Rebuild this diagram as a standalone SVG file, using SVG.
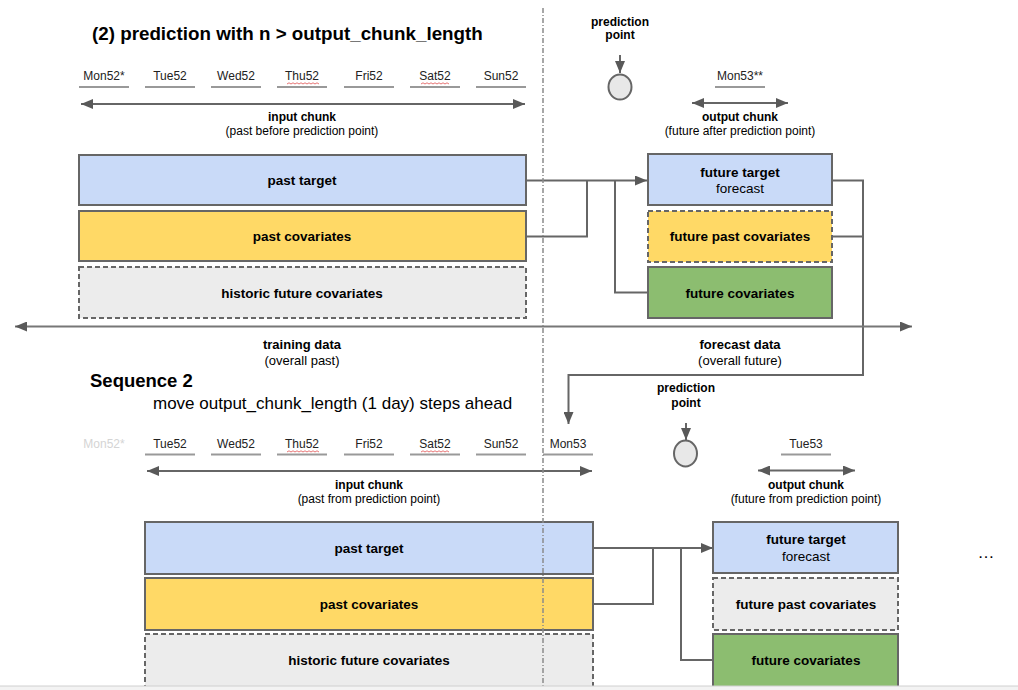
<svg xmlns="http://www.w3.org/2000/svg" width="1018" height="690" viewBox="0 0 1018 690">
<defs>
<marker id="ah" markerUnits="userSpaceOnUse" markerWidth="12" markerHeight="10" viewBox="0 0 12 10" refX="12" refY="5" orient="auto-start-reverse"><path d="M0,0 L12,5 L0,10 z" fill="#595959"/></marker>
<style>
text{font-family:"Liberation Sans",Arial,sans-serif;fill:#000;text-anchor:middle}
.day{font-size:12px;fill:#222}
.b12{font-size:12px;font-weight:bold}
.r12{font-size:12px}
.b13{font-size:13px;font-weight:bold}
.r13{font-size:13px}
.lbl{font-size:13.5px;font-weight:bold}
.lblr{font-size:13.5px}
.ul{stroke:#999;stroke-width:2}
.arr{stroke:#666;stroke-width:2;fill:none}
.box{stroke:#666;stroke-width:2}
.dash{stroke-dasharray:5 3}
.blue{fill:#c9daf8}
.yellow{fill:#ffd966}
.grey{fill:#ececec}
.green{fill:#8cbd70}
.sq{stroke:#e05050;stroke-width:0.8;fill:none}
.conn{stroke:#666;stroke-width:2;fill:none}
</style>
</defs>
<rect width="1018" height="690" fill="#fff"/>

<!-- Sequence 1 header -->
<text x="92" y="40" style="font-size:18.8px;font-weight:bold;text-anchor:start">(2) prediction with n &gt; output_chunk_length</text>

<g id="days1">
<text class="day" x="104" y="80">Mon52*</text>
<text class="day" x="170" y="80">Tue52</text>
<text class="day" x="236" y="80">Wed52</text>
<text class="day" x="302" y="80">Thu52</text>
<text class="day" x="369" y="80">Fri52</text>
<text class="day" x="435" y="80">Sat52</text>
<text class="day" x="501" y="80">Sun52</text>
<line class="ul" x1="79" y1="87" x2="129" y2="87"/>
<line class="ul" x1="145" y1="87" x2="195" y2="87"/>
<line class="ul" x1="211" y1="87" x2="261" y2="87"/>
<line class="ul" x1="277" y1="87" x2="327" y2="87"/>
<line class="ul" x1="344" y1="87" x2="394" y2="87"/>
<line class="ul" x1="410" y1="87" x2="460" y2="87"/>
<line class="ul" x1="476" y1="87" x2="526" y2="87"/>
<path class="sq" d="M287,84 l2,-1.2 l2,1.2 l2,-1.2 l2,1.2 l2,-1.2 l2,1.2 l2,-1.2 l2,1.2 l2,-1.2 l2,1.2 l2,-1.2 l2,1.2 l2,-1.2 l2,1.2 l2,-1.2 l2,1.2"/>
<path class="sq" d="M421,84 l2,-1.2 l2,1.2 l2,-1.2 l2,1.2 l2,-1.2 l2,1.2 l2,-1.2 l2,1.2 l2,-1.2 l2,1.2 l2,-1.2 l2,1.2 l2,-1.2 l2,1.2"/>
</g>

<g id="input-chunk-1">
<line class="arr" x1="81" y1="104" x2="525" y2="104" marker-start="url(#ah)" marker-end="url(#ah)"/>
<text class="b12" x="302" y="121">input chunk</text>
<text class="r12" x="302" y="135">(past before prediction point)</text>
</g>

<g id="prediction-point-1">
<text class="b12" x="620" y="26">prediction</text>
<text class="b12" x="620" y="39">point</text>
<line class="arr" x1="620" y1="55" x2="620" y2="73" marker-end="url(#ah)"/>
<ellipse cx="620" cy="87" rx="11.5" ry="12.5" fill="#e8e8e8" stroke="#666" stroke-width="2"/>
</g>

<g id="output-chunk-1">
<text class="day" x="740" y="80">Mon53**</text>
<line class="ul" x1="715" y1="87" x2="765" y2="87"/>
<line class="arr" x1="692" y1="103" x2="788" y2="103" marker-start="url(#ah)" marker-end="url(#ah)"/>
<text class="b12" x="740" y="121">output chunk</text>
<text class="r12" x="740" y="135">(future after prediction point)</text>
</g>

<!-- connectors -->
<g id="connectors">
<path class="conn" d="M526,180.5 H647" marker-end="url(#ah)"/>
<path class="conn" d="M526,236.5 H587 V180.5"/>
<path class="conn" d="M647,292.5 H615 V180.5"/>
<path class="conn" d="M832,180.5 H863 V375 H568.5 V424" marker-end="url(#ah)"/>
<path class="conn" d="M832,236.5 H863"/>
<path class="conn" d="M593,548 H713" marker-end="url(#ah)"/>
<path class="conn" d="M593,604 H653 V548"/>
<path class="conn" d="M713,660 H681 V548"/>
</g>

<g id="past-target-1"><rect class="box blue" x="79" y="155" width="447" height="50"/><text class="lbl" x="302" y="185">past target</text></g>
<g id="past-covariates-1"><rect class="box yellow" x="79" y="211" width="447" height="50"/><text class="lbl" x="302" y="241">past covariates</text></g>
<g id="historic-future-covariates-1"><rect class="box grey dash" x="79" y="267" width="447" height="51"/><text class="lbl" x="302" y="298">historic future covariates</text></g>
<g id="future-target-1"><rect class="box blue" x="648" y="154" width="184" height="51"/><text class="lbl" x="740" y="176.5">future target</text><text class="lblr" x="740" y="193">forecast</text></g>
<g id="future-past-covariates-1"><rect class="box yellow dash" x="648" y="211" width="184" height="51"/><text class="lbl" x="740" y="241">future past covariates</text></g>
<g id="future-covariates-1"><rect class="box green" x="648" y="267" width="184" height="51"/><text class="lbl" x="740" y="298">future covariates</text></g>

<g id="timeline">
<line x1="15" y1="326.5" x2="912" y2="326.5" stroke="#777" stroke-width="2" marker-start="url(#ah)" marker-end="url(#ah)"/>
<text class="b13" x="302" y="348.5">training data</text>
<text class="r13" x="302" y="364.5">(overall past)</text>
<text class="b13" x="740" y="348.5">forecast data</text>
<text class="r13" x="740" y="364.5">(overall future)</text>
</g>

<!-- Sequence 2 -->
<text x="90" y="387" style="font-size:18.5px;font-weight:bold;text-anchor:start">Sequence 2</text>
<text x="153" y="409" style="font-size:17px;text-anchor:start">move output_chunk_length (1 day) steps ahead</text>

<g id="prediction-point-2">
<text class="b12" x="686" y="392">prediction</text>
<text class="b12" x="686" y="407">point</text>
<line class="arr" x1="686" y1="423" x2="686" y2="440" marker-end="url(#ah)"/>
<ellipse cx="685.5" cy="453.5" rx="11.5" ry="13" fill="#e8e8e8" stroke="#666" stroke-width="2"/>
</g>

<g id="days2">
<text class="day" x="104" y="448" style="fill:#d4d4d4">Mon52*</text>
<text class="day" x="170" y="448">Tue52</text>
<text class="day" x="236" y="448">Wed52</text>
<text class="day" x="302" y="448">Thu52</text>
<text class="day" x="369" y="448">Fri52</text>
<text class="day" x="435" y="448">Sat52</text>
<text class="day" x="501" y="448">Sun52</text>
<text class="day" x="568" y="448">Mon53</text>
<line class="ul" x1="145" y1="454.5" x2="195" y2="454.5"/>
<line class="ul" x1="211" y1="454.5" x2="261" y2="454.5"/>
<line class="ul" x1="277" y1="454.5" x2="327" y2="454.5"/>
<line class="ul" x1="344" y1="454.5" x2="394" y2="454.5"/>
<line class="ul" x1="410" y1="454.5" x2="460" y2="454.5"/>
<line class="ul" x1="476" y1="454.5" x2="526" y2="454.5"/>
<line class="ul" x1="543" y1="454.5" x2="593" y2="454.5"/>
<path class="sq" d="M287,452 l2,-1.2 l2,1.2 l2,-1.2 l2,1.2 l2,-1.2 l2,1.2 l2,-1.2 l2,1.2 l2,-1.2 l2,1.2 l2,-1.2 l2,1.2 l2,-1.2 l2,1.2 l2,-1.2 l2,1.2"/>
<path class="sq" d="M421,452 l2,-1.2 l2,1.2 l2,-1.2 l2,1.2 l2,-1.2 l2,1.2 l2,-1.2 l2,1.2 l2,-1.2 l2,1.2 l2,-1.2 l2,1.2 l2,-1.2 l2,1.2"/>
</g>

<g id="input-chunk-2">
<line class="arr" x1="147" y1="471" x2="592" y2="471" marker-start="url(#ah)" marker-end="url(#ah)"/>
<text class="b12" x="369" y="489">input chunk</text>
<text class="r12" x="369" y="503">(past from prediction point)</text>
</g>

<g id="output-chunk-2">
<text class="day" x="806" y="448">Tue53</text>
<line class="ul" x1="781" y1="454.5" x2="831" y2="454.5"/>
<line class="arr" x1="758" y1="470.5" x2="855" y2="470.5" marker-start="url(#ah)" marker-end="url(#ah)"/>
<text class="b12" x="806" y="489">output chunk</text>
<text class="r12" x="806" y="503">(future from prediction point)</text>
</g>

<g id="past-target-2"><rect class="box blue" x="145" y="522" width="448" height="52"/><text class="lbl" x="369" y="553">past target</text></g>
<g id="past-covariates-2"><rect class="box yellow" x="145" y="578" width="448" height="52"/><text class="lbl" x="369" y="609">past covariates</text></g>
<g id="historic-future-covariates-2"><rect class="box grey dash" x="145" y="634" width="448" height="60"/><text class="lbl" x="369" y="665">historic future covariates</text></g>
<g id="future-target-2"><rect class="box blue" x="713" y="522" width="185" height="51"/><text class="lbl" x="806" y="544">future target</text><text class="lblr" x="806" y="560.5">forecast</text></g>
<g id="future-past-covariates-2"><rect class="box grey dash" x="713" y="578" width="185" height="52"/><text class="lbl" x="806" y="609">future past covariates</text></g>
<g id="future-covariates-2"><rect class="box green" x="713" y="634" width="185" height="60"/><text class="lbl" x="806" y="665">future covariates</text></g>

<text x="986" y="558" style="font-size:17px">…</text>

<line id="prediction-divider" x1="543" y1="8" x2="543" y2="690" stroke="#8a8a8a" stroke-width="1.5" stroke-dasharray="5 2 1 2"/>

<rect x="0" y="686" width="1018" height="4" fill="#f3f3f3"/>
<line x1="0" y1="686" x2="1018" y2="686" stroke="#d0d0d0" stroke-width="1"/>
</svg>
